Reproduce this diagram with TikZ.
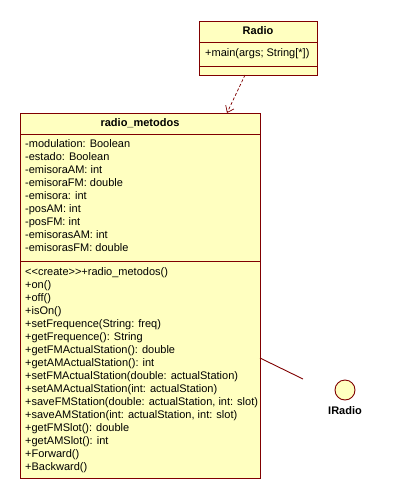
\documentclass[tikz,border=0pt]{standalone}
\usepackage{fontspec}
\setmainfont{Liberation Sans}
\usetikzlibrary{arrows.meta}
\definecolor{umlfill}{HTML}{FFFFC0}
\definecolor{umlline}{HTML}{800000}
\tikzset{
  box/.style={draw=umlline, fill=umlfill, line width=0.9pt},
  sepline/.style={draw=umlline, line width=0.9pt},
  txt/.style={anchor=west, inner sep=0pt, font=\fontsize{11}{13}\selectfont, text height=8pt, text depth=2.5pt},
  ttl/.style={inner sep=0pt, font=\fontsize{11}{13}\selectfont\bfseries, text height=8pt, text depth=2.5pt},
  dep/.style={draw=umlline, line width=0.7pt, dash pattern=on 3pt off 2pt, -{Straight Barb[length=6pt,width=9pt]}},
  link/.style={draw=umlline, line width=0.9pt}
}
\begin{document}
\begin{tikzpicture}[x=1pt,y=-1pt]
\useasboundingbox (0,0) rectangle (409,499);
\fill[white] (0,0) rectangle (409,499);
% Radio class
\draw[box] (199,21) rectangle (317,75);
\draw[sepline] (199,42) -- (317,42);
\draw[sepline] (199,66) -- (317,66);
\node[ttl] (radiotitle) at (258,31.5) {Radio};
\node[txt] (radiomain) at (205,53.5) {+main(args; String[*])};
\coordinate (radiobot) at (245,75);
% radio_metodos class
\draw[box] (20,113) rectangle (260,478);
\draw[sepline] (20,134) -- (260,134);
\draw[sepline] (20,261) -- (260,261);
\node[ttl] (rmtitle) at (140,123.5) {radio\_metodos};
\coordinate (rmtop) at (227,113);
\foreach \t [count=\i from 0] in {
  -modulation: Boolean,
  -estado: Boolean,
  -emisoraAM: int,
  -emisoraFM: double,
  -emisora: int,
  -posAM: int,
  -posFM: int,
  -emisorasAM: int,
  -emisorasFM: double}
  \node[txt] (attr\i) at (25,145+13*\i) {\t};
\foreach \t [count=\i from 0] in {
  {<{}<create>{}>+radio\_metodos()},
  +on(),
  +off(),
  +isOn(),
  +setFrequence(String: freq),
  +getFrequence(): String,
  +getFMActualStation(): double,
  +getAMActualStation(): int,
  +setFMActualStation(double: actualStation),
  +setAMActualStation(int: actualStation),
  {+saveFMStation(double: actualStation, int: slot)},
  {+saveAMStation(int: actualStation, int: slot)},
  +getFMSlot(): double,
  +getAMSlot(): int,
  +Forward(),
  +Backward()}
  \node[txt] (meth\i) at (25,272.5+13*\i) {\t};
% dependency
\draw[dep] (radiobot) -- (rmtop);
% interface
\node[circle, draw=umlline, fill=umlfill, line width=0.9pt, minimum size=20pt, inner sep=0pt] (iradio) at (345,390) {};
\node[ttl] (iradiolabel) at (345,412) {IRadio};
\coordinate (rmright) at (260,358);
\coordinate (linkend) at (303,379);
\draw[link] (rmright) -- (linkend);
\end{tikzpicture}
\end{document}
